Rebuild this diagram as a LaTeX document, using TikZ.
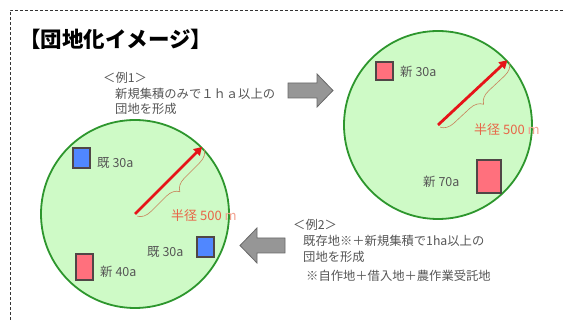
\documentclass[tikz,border=0pt]{standalone}
\usepackage{fontspec}
\setmainfont{Noto Sans CJK JP}
\newfontfamily\heavyjp{Noto Sans CJK JP Black}
\usetikzlibrary{arrows.meta,decorations.pathreplacing}
\definecolor{zonefill}{RGB}{206,250,198}
\definecolor{zoneline}{RGB}{45,150,45}
\definecolor{newfill}{RGB}{255,112,125}
\definecolor{oldfill}{RGB}{80,135,255}
\definecolor{boxline}{RGB}{80,70,70}
\definecolor{radred}{RGB}{230,20,25}
\definecolor{bracecol}{RGB}{200,130,90}
\definecolor{radtext}{RGB}{232,100,70}
\definecolor{txtgray}{RGB}{85,85,85}
\definecolor{arrfill}{RGB}{150,150,150}
\definecolor{arrline}{RGB}{105,105,105}
\begin{document}
\begin{tikzpicture}[x=1pt,y=-1pt,
  zone/.style={circle,draw=zoneline,line width=1.8pt,fill=zonefill,minimum size=188pt,inner sep=0pt},
  newplot/.style={draw=boxline,line width=1.3pt,fill=newfill,inner sep=0pt},
  oldplot/.style={draw=boxline,line width=1.3pt,fill=oldfill,inner sep=0pt},
  plotlabel/.style={anchor=west,inner sep=0pt,text=txtgray,font=\fontsize{12.5}{14}\selectfont},
  exlabel/.style={anchor=west,inner sep=0pt,text=txtgray,font=\fontsize{12.3}{14}\selectfont},
  radlabel/.style={anchor=west,inner sep=0pt,text=radtext,font=\fontsize{13}{15}\selectfont},
  radius/.style={draw=radred,line width=2.8pt,-{Triangle[length=8pt,width=9pt]}},
  radbrace/.style={draw=bracecol,line width=0.6pt,decorate,decoration={brace,amplitude=13pt,raise=3pt}},
  bigarrow/.style={draw=arrline,line width=0.8pt,fill=arrfill,line join=miter}
]
\useasboundingbox (0,0) rectangle (563,320);
% frame
\draw[dash pattern=on 3pt off 2pt,line width=0.7pt,black!80] (10,320) -- (10,10) -- (563,10);
% title
\node[anchor=west,inner sep=0pt,font=\fontsize{21.5}{24}\heavyjp] (title) at (19,39) {【団地化イメージ】};
% example 1 text
\node[exlabel] (e1a) at (103,78) {＜例1＞};
\node[exlabel] (e1b) at (115,94) {新規集積のみで１ｈａ以上の};
\node[exlabel] (e1c) at (115,109) {団地を形成};
% right arrow
\draw[bigarrow] (288,83) -- (317,83) -- (317,74) -- (333,90.5) -- (317,107) -- (317,98) -- (288,98) -- cycle;
% right circle
\node[zone] (c1) at (438,125) {};
\node[newplot,minimum width=17pt,minimum height=18pt] (n1) at (384.5,71) {};
\node[plotlabel] (n1l) at (400,72) {新 30a};
\node[newplot,minimum width=24pt,minimum height=33pt] (n2) at (489,176.5) {};
\node[plotlabel] (n2l) at (423,182) {新 70a};
\draw[radbrace] (c1.43) -- (c1.center);
\draw[radius] (c1.center) -- (c1.43);
\node[radlabel] (r1) at (474,130) {半径 500 \textcolor{radtext!60}{m}};
% left circle
\node[zone] (c2) at (135,214) {};
\node[oldplot,minimum width=17pt,minimum height=20pt] (o1) at (81.5,158) {};
\node[plotlabel] (o1l) at (97,163) {既 30a};
\node[oldplot,minimum width=17pt,minimum height=20pt] (o2) at (205.5,247) {};
\node[plotlabel] (o2l) at (147,252) {既 30a};
\node[newplot,minimum width=17pt,minimum height=26pt] (n3) at (84.5,267) {};
\node[plotlabel] (n3l) at (100,272) {新 40a};
\draw[radbrace] (c2.45) -- (c2.center);
\draw[radius] (c2.center) -- (c2.45);
\node[radlabel] (r2) at (171,216) {半径 500 \textcolor{radtext!60}{m}};
% left arrow
\draw[bigarrow] (285,238) -- (257,238) -- (257,228) -- (240,245.5) -- (257,263) -- (257,253) -- (285,253) -- cycle;
% example 2 text
\node[exlabel] (e2a) at (293,225) {＜例2＞};
\node[exlabel] (e2b) at (303,241) {既存地※＋新規集積で1ha以上の};
\node[exlabel] (e2c) at (303,257) {団地を形成};
\node[exlabel] (e2d) at (306,276) {※自作地＋借入地＋農作業受託地};
\end{tikzpicture}
\end{document}
